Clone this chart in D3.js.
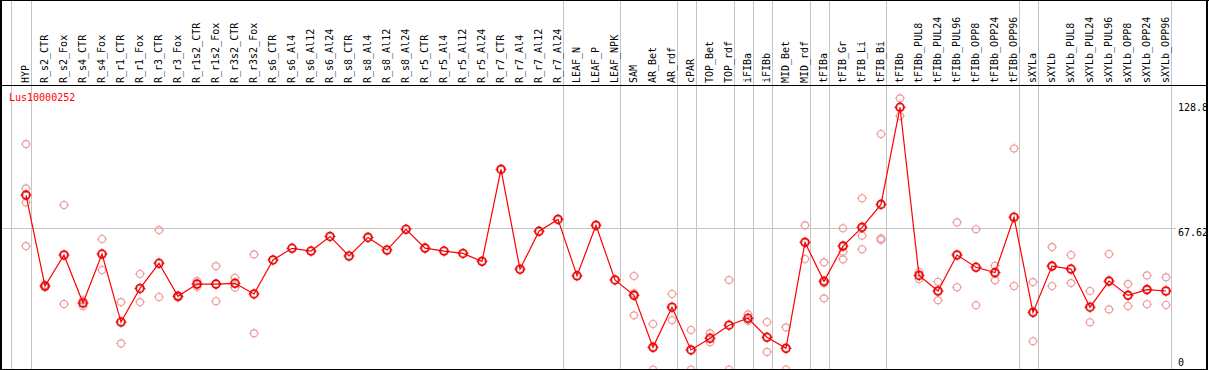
<!DOCTYPE html>
<html>
<head>
<meta charset="utf-8">
<script src="https://cdn.jsdelivr.net/npm/d3@7/dist/d3.min.js"></script>
<style>
  html, body { margin: 0; padding: 0; background: #fff; }
  svg { display: block; }
</style>
</head>
<body>
<div id="chart"></div>
<script>
const geneId = "Lus10000252";

const categories = [
  "HYP", "R_s2_CTR", "R_s2_Fox", "R_s4_CTR", "R_s4_Fox", "R_r1_CTR", "R_r1_Fox",
  "R_r3_CTR", "R_r3_Fox", "R_r1s2_CTR", "R_r1s2_Fox", "R_r3s2_CTR", "R_r3s2_Fox",
  "R_s6_CTR", "R_s6_Al4", "R_s6_Al12", "R_s6_Al24", "R_s8_CTR", "R_s8_Al4",
  "R_s8_Al12", "R_s8_Al24", "R_r5_CTR", "R_r5_Al4", "R_r5_Al12", "R_r5_Al24",
  "R_r7_CTR", "R_r7_Al4", "R_r7_Al12", "R_r7_Al24", "LEAF_N", "LEAF_P", "LEAF_NPK",
  "SAM", "AR_Bet", "AR_rdf", "cPAR", "TOP_Bet", "TOP_rdf", "iFIBa", "iFIBb",
  "MID_Bet", "MID_rdf", "tFIBa", "tFIB_Gr", "tFIB_Li", "tFIB_Bi", "tFIBb",
  "tFIBb_PUL8", "tFIBb_PUL24", "tFIBb_PUL96", "tFIBb_OPP8", "tFIBb_OPP24", "tFIBb_OPP96",
  "sXYLa", "sXYLb", "sXYLb_PUL8", "sXYLb_PUL24", "sXYLb_PUL96", "sXYLb_OPP8",
  "sXYLb_OPP24", "sXYLb_OPP96"
];

const means = [
  84.4, 38.4, 54.1, 29.8, 54.6, 20.2, 37.2,
  49.9, 33.2, 39.4, 39.4, 39.8, 34.4,
  51.6, 57.5, 56.1, 63.5, 53.6, 63.0,
  56.6, 67.1, 57.6, 56.1, 54.9, 50.9,
  97.4, 46.9, 66.1, 72.1, 43.6, 69.1, 41.5,
  33.7, 7.4, 27.7, 6.1, 12.0, 18.6, 22.1, 12.5,
  6.9, 60.5, 40.8, 58.6, 68.1, 79.7, 128.8,
  43.8, 35.9, 54.1, 47.9, 45.2, 73.2,
  25.1, 48.5, 47.0, 27.7, 40.9, 33.7,
  36.6, 35.9
];

const replicates = [
  [110.2, 87.8, 80.7, 58.6], [39.0, 37.8], [79.4, 29.3], [31.2, 28.3], [62.2, 46.5],
  [30.3, 9.4], [44.5, 30.3], [66.7, 32.9], [33.6, 32.8], [40.9, 38.0], [48.5, 30.7],
  [42.6, 37.6], [54.4, 14.5],
  [], [], [], [], [], [], [], [], [], [], [], [], [], [], [], [], [], [], [],
  [43.5, 34.7, 23.6], [19.2, -3.8], [34.4, 21.1], [16.2, -3.8], [14.5, 10.0],
  [41.5, -3.8], [24.1, 20.9], [20.2, 5.1], [17.5, -3.8], [69.1, 52.1],
  [50.4, 39.8, 32.2], [67.6, 55.8, 51.9], [82.8, 63.9, 57.0], [115.3, 62.5, 61.7],
  [133.3, 124.4], [45.5, 42.0], [40.6, 31.2], [70.6, 37.8], [67.1, 28.7], [48.7, 41.3],
  [108.0, 38.4], [40.4, 10.5], [58.1, 38.4], [54.1, 39.9], [35.9, 20.1], [54.6, 26.6],
  [39.4, 28.3], [43.8, 29.2], [42.8, 28.8]
];

// last category of each group; a grey separator is drawn after it
const groupEnds = [
  "HYP", "R_r7_Al24", "LEAF_NPK", "AR_rdf", "cPAR", "TOP_rdf", "iFIBa", "iFIBb",
  "MID_rdf", "tFIBa", "tFIB_Bi", "tFIBb_OPP96", "sXYLa", "sXYLb_OPP96"
];

const yTicks = [0, 67.62, 128.8];

const W = 1209, H = 370;
const headerH = 85;
const plotBottom = 369;
const font = "'DejaVu Sans Mono', 'Liberation Mono', monospace";
const grid = "#c4c4c4";
const red = "#ff0000";
const pink = "#ee9c9c";

const svg = d3.select("#chart").append("svg")
  .attr("width", W)
  .attr("height", H)
  .style("background", "#fff");

const x = d3.scalePoint().domain(categories).range([26, 1166]);
const step = x.step();
const y = d3.scaleLinear().domain([0, 128.8]).range([362, 107.3]);

svg.append("clipPath").attr("id", "plot-clip")
  .append("rect")
  .attr("x", 1).attr("y", headerH + 1)
  .attr("width", 1205).attr("height", plotBottom - headerH - 1);

// vertical separators, full height
const sepX = [x(categories[0]) - step + 3.5].concat(groupEnds.map(c => x(c) + 4.5));
svg.append("g")
  .selectAll("line")
  .data(sepX)
  .join("line")
  .attr("x1", d => Math.round(d) + 0.5)
  .attr("x2", d => Math.round(d) + 0.5)
  .attr("y1", 0)
  .attr("y2", plotBottom)
  .attr("stroke", grid)
  .attr("stroke-width", 1);

// horizontal grid for interior ticks
const innerTicks = yTicks.filter(t => t > 0 && t < y.domain()[1]);
svg.append("g")
  .selectAll("line")
  .data(innerTicks)
  .join("line")
  .attr("x1", 1)
  .attr("x2", 1176)
  .attr("y1", d => Math.round(y(d)) + 0.5)
  .attr("y2", d => Math.round(y(d)) + 0.5)
  .attr("stroke", grid);

// category labels, rotated
svg.append("g")
  .selectAll("text")
  .data(categories)
  .join("text")
  .attr("transform", d => `translate(${x(d) + 3},${headerH - 2}) rotate(-90)`)
  .attr("font-family", font)
  .attr("font-size", 10)
  .attr("fill", "#000")
  .text(d => d);

// y tick labels on the right
svg.append("g")
  .selectAll("text")
  .data(yTicks)
  .join("text")
  .attr("x", 1178)
  .attr("y", d => (innerTicks.includes(d) ? y(d) + 8 : y(d) + 3.5))
  .attr("font-family", font)
  .attr("font-size", 10)
  .attr("fill", "#000")
  .text(d => d);

svg.append("text")
  .attr("x", 9)
  .attr("y", 100.5)
  .attr("font-family", font)
  .attr("font-size", 10)
  .attr("fill", red)
  .text(geneId);

const plot = svg.append("g").attr("clip-path", "url(#plot-clip)");

function marker(g, r, color, width) {
  g.append("circle")
    .attr("r", r)
    .attr("fill", "none")
    .attr("stroke", color)
    .attr("stroke-width", width);
  g.append("path")
    .attr("d", `M0,${-r - 1.5}V${-r + 0.5}M0,${r - 0.5}V${r + 1.5}M${-r - 1.5},0H${-r + 0.5}M${r - 0.5},0H${r + 1.5}`)
    .attr("stroke", color)
    .attr("stroke-width", 1);
}

// replicate points
const repPoints = replicates.flatMap((vals, i) => vals.map(v => ({ c: categories[i], v })));
plot.append("g")
  .selectAll("g")
  .data(repPoints)
  .join("g")
  .attr("transform", d => `translate(${x(d.c)},${y(d.v)})`)
  .each(function () { marker(d3.select(this), 3.5, pink, 1.1); });

// mean line
const meanData = categories.map((c, i) => ({ c, v: means[i] }));
plot.append("path")
  .datum(meanData)
  .attr("fill", "none")
  .attr("stroke", red)
  .attr("stroke-width", 1.2)
  .attr("d", d3.line().x(d => x(d.c)).y(d => y(d.v)));

plot.append("g")
  .selectAll("g")
  .data(meanData)
  .join("g")
  .attr("transform", d => `translate(${x(d.c)},${y(d.v)})`)
  .each(function () {
    const g = d3.select(this);
    marker(g, 4, red, 1.6);
    g.append("circle").attr("r", 3).attr("fill", "none")
      .attr("stroke", "#5a0000").attr("stroke-width", 0.6).attr("opacity", 0.6);
  });

// frame
const frame = svg.append("g").attr("stroke", "#000").attr("fill", "none");
frame.append("line").attr("x1", 0).attr("x2", W).attr("y1", 0.5).attr("y2", 0.5);
frame.append("line").attr("x1", 0).attr("x2", 1208).attr("y1", headerH + 0.5).attr("y2", headerH + 0.5);
frame.append("line").attr("x1", 0).attr("x2", 1208).attr("y1", plotBottom + 0.5).attr("y2", plotBottom + 0.5);
frame.append("line").attr("x1", 1).attr("x2", 1).attr("y1", 0).attr("y2", H).attr("stroke-width", 2);
frame.append("line").attr("x1", 1207).attr("x2", 1207).attr("y1", 0).attr("y2", H).attr("stroke-width", 2);
</script>
</body>
</html>
